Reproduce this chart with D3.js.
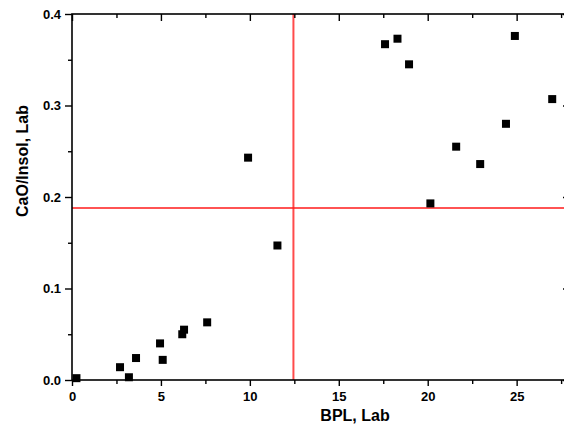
<!DOCTYPE html>
<html lang="en">
<head>
<meta charset="UTF-8">
<title>CaO/Insol vs BPL</title>
<script src="https://cdn.jsdelivr.net/npm/d3@7"></script>
<style>
    body { margin: 0; background: #fff; }
    svg text { font-family: "Liberation Sans", Arial, sans-serif; font-weight: bold; fill: #000; }
</style>
</head>
<body>
<div id="chart"></div>
<script>
// data
var bplLab = [0.25, 2.7, 3.2, 3.6, 4.95, 5.1, 6.2, 6.3, 7.6, 9.9, 11.55,
              17.6, 18.3, 18.95, 20.15, 21.6, 22.95, 24.4, 24.9, 27.0];
var caoInsol = [0.002, 0.014, 0.003, 0.024, 0.040, 0.022, 0.050, 0.055, 0.063, 0.243, 0.147,
                0.367, 0.373, 0.345, 0.193, 0.255, 0.236, 0.280, 0.376, 0.307];
var xTicks = [0, 5, 10, 15, 20, 25];
var yTicks = [0.0, 0.1, 0.2, 0.3, 0.4];
var cutX = 12.45, cutY = 0.188;

var W = 564, H = 429;
var margin = {left: 72, top: 14, right: -6, bottom: 49};

var svg = d3.select("#chart").append("svg")
    .attr("width", W).attr("height", H);

var x = d3.scaleLinear().domain([0, 28]).range([margin.left, W - margin.right]);
var y = d3.scaleLinear().domain([0, 0.4]).range([H - margin.bottom, margin.top]);

var minorX = d3.range(0, 28.01, 2.5).filter(function(v){ return v % 5 !== 0; });
var minorY = [0.05, 0.15, 0.25, 0.35];

// red reference lines (under the marks)
svg.append("line")
    .attr("x1", x(cutX)).attr("x2", x(cutX))
    .attr("y1", y(0.4)).attr("y2", y(0))
    .attr("stroke", "#ff4b4b").attr("stroke-width", 2);
svg.append("line")
    .attr("x1", x(0)).attr("x2", x(28))
    .attr("y1", y(cutY)).attr("y2", y(cutY))
    .attr("stroke", "#ff1a1a").attr("stroke-width", 1.4);

// minor ticks first, then major axes on top
svg.append("g").attr("transform", "translate(0," + y(0) + ")")
    .call(d3.axisBottom(x).tickValues(minorX).tickSize(4).tickFormat(""));
svg.append("g").attr("transform", "translate(0," + y(0.4) + ")")
    .call(d3.axisBottom(x).tickValues(minorX).tickSize(4).tickFormat(""));
svg.append("g").attr("transform", "translate(" + x(0) + ",0)")
    .call(d3.axisLeft(y).tickValues(minorY).tickSize(4).tickFormat(""));
svg.append("g").attr("transform", "translate(" + x(28) + ",0)")
    .call(d3.axisLeft(y).tickValues(minorY).tickSize(4).tickFormat(""));

svg.append("g").attr("transform", "translate(0," + y(0) + ")")
    .call(d3.axisBottom(x).tickValues(xTicks).tickSize(6).tickPadding(6).tickFormat(d3.format("d")));
svg.append("g").attr("transform", "translate(0," + y(0.4) + ")")
    .call(d3.axisBottom(x).tickValues(xTicks).tickSize(7).tickFormat(""));
svg.append("g").attr("transform", "translate(" + x(0) + ",0)")
    .call(d3.axisLeft(y).tickValues(yTicks).tickSize(7).tickPadding(4).tickFormat(d3.format(".1f")));
svg.append("g").attr("transform", "translate(" + x(28) + ",0)")
    .call(d3.axisLeft(y).tickValues(yTicks).tickSize(7).tickFormat(""));

svg.selectAll(".tick line").attr("stroke", "#000").attr("stroke-width", 1.4);
svg.selectAll(".tick text").style("font-size", "13px");
// plain frame instead of the domain paths
svg.selectAll(".domain").remove();
svg.append("rect")
    .attr("x", x(0)).attr("y", y(0.4))
    .attr("width", x(28) - x(0)).attr("height", y(0) - y(0.4))
    .attr("fill", "none").attr("stroke", "#000").attr("stroke-width", 1.6);

// points
var sq = 8;
svg.selectAll(".pt").data(d3.range(bplLab.length)).enter().append("rect")
    .attr("class", "pt")
    .attr("x", function(i){ return x(bplLab[i]) - sq / 2; })
    .attr("y", function(i){ return y(caoInsol[i]) - sq / 2; })
    .attr("width", sq).attr("height", sq)
    .attr("fill", "#000");

// axis titles
svg.append("text")
    .attr("x", 355).attr("y", 421)
    .attr("text-anchor", "middle")
    .style("font-size", "16px")
    .text("BPL, Lab");
svg.append("text")
    .attr("transform", "translate(28,161) rotate(-90)")
    .attr("text-anchor", "middle")
    .style("font-size", "16px")
    .text("CaO/Insol, Lab");
</script>
</body>
</html>
